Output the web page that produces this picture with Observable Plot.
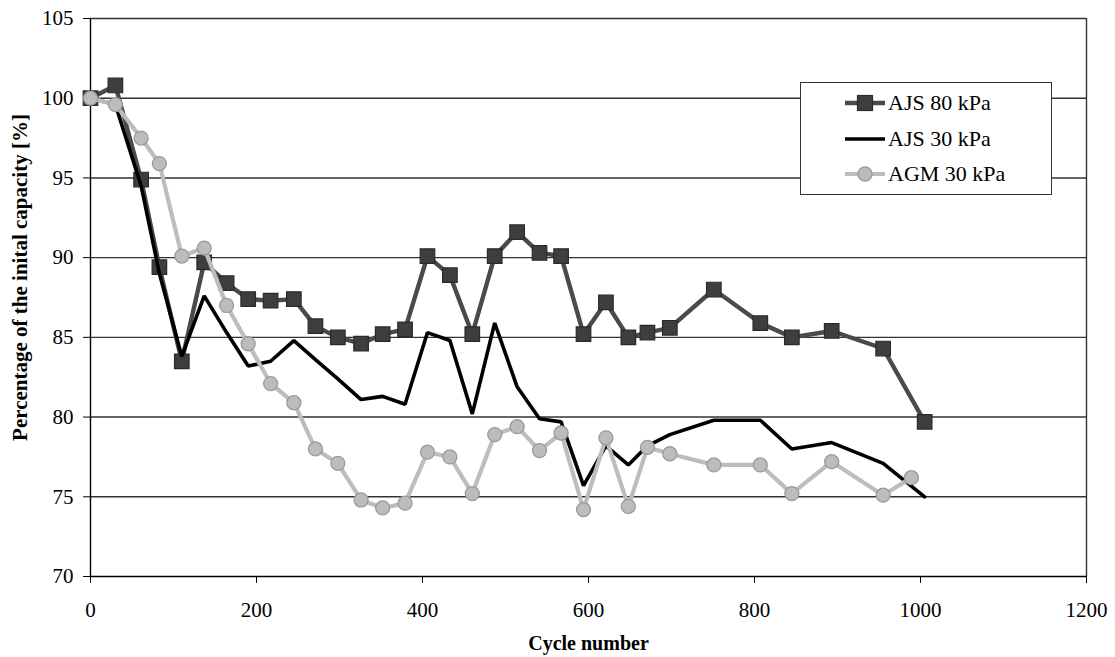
<!DOCTYPE html>
<html>
<head>
<meta charset="utf-8">
<script src="https://cdn.jsdelivr.net/npm/d3@7"></script>
<script src="https://cdn.jsdelivr.net/npm/@observablehq/plot@0.6"></script>
<style>
  html, body { margin: 0; padding: 0; background: #fff; }
  #wrap { position: relative; width: 1115px; height: 657px; font-family: "Liberation Serif", "Times New Roman", serif; }
  #legend { position: absolute; left: 800px; top: 82px; width: 252px; height: 113px; background: #fff; border: 1.5px solid #333; box-sizing: border-box; }
  #legend .row { position: absolute; left: 43px; height: 30px; display: flex; align-items: center; font-size: 22px; color: #000; white-space: nowrap; }
  #legend svg { margin-right: 2px; }
</style>
</head>
<body>
<div id="wrap"></div>
<script>
// ---- data ----
const seriesNames = ["AJS 80 kPa", "AJS 30 kPa", "AGM 30 kPa"];

const cyclesAJS80 = [0,30,61,83,110,137,164,190,217,245,271,298,326,352,379,406,433,460,487,514,541,567,594,621,648,671,698,751,807,845,893,955,1005];
const valuesAJS80 = [100,100.8,94.9,89.4,83.5,89.7,88.4,87.4,87.3,87.4,85.7,85.0,84.6,85.2,85.5,90.1,88.9,85.2,90.1,91.6,90.3,90.1,85.2,87.2,85.0,85.3,85.6,88.0,85.9,85.0,85.4,84.3,79.7];

const cyclesAJS30 = [0,30,61,83,110,137,164,190,217,245,271,298,326,352,379,406,433,460,487,514,541,567,594,621,648,671,698,751,807,845,893,955,1005];
const valuesAJS30 = [100,99.6,94.5,89.0,83.8,87.6,85.3,83.2,83.5,84.8,83.6,82.4,81.1,81.3,80.8,85.3,84.8,80.2,85.9,81.9,79.9,79.7,75.7,78.2,77.0,78.2,78.9,79.8,79.8,78.0,78.4,77.1,75.0];

const cyclesAGM30 = [0,30,61,83,110,137,164,190,217,245,271,298,326,352,379,406,433,460,487,514,541,567,594,621,648,671,698,751,807,845,893,955,989];
const valuesAGM30 = [100,99.6,97.5,95.9,90.1,90.6,87.0,84.6,82.1,80.9,78.0,77.1,74.8,74.3,74.6,77.8,77.5,75.2,78.9,79.4,77.9,79.0,74.2,78.7,74.4,78.1,77.7,77.0,77.0,75.2,77.2,75.1,76.2];

const xTicks = [0,200,400,600,800,1000,1200];
const yTicks = [70,75,80,85,90,95,100,105];
const gridValues = [75,80,85,90,95,100,105];

const xTitle = "Cycle number";
const yTitle = "Percentage of the inital capacity [%]";

// ---- tables ----
const ajs80 = cyclesAJS80.map((c, i) => ({cycle: c, value: valuesAJS80[i]}));
const ajs30 = cyclesAJS30.map((c, i) => ({cycle: c, value: valuesAJS30[i]}));
const agm30 = cyclesAGM30.map((c, i) => ({cycle: c, value: valuesAGM30[i]}));

const C80 = {line: "#4a4a4a", fill: "#3e3e3e", stroke: "#2a2a2a"};
const C30 = {line: "#000000"};
const CAG = {line: "#bdbdbd", fill: "#bcbcbc", stroke: "#9a9a9a"};

const chart = Plot.plot({
  width: 1115,
  height: 657,
  marginLeft: 90,
  marginRight: 29,
  marginTop: 18,
  marginBottom: 81,
  style: {fontFamily: "Liberation Serif, Times New Roman, serif", fontSize: "21px", color: "#000", background: "#fff"},
  x: {domain: [0, 1200], ticks: xTicks, tickFormat: d => String(d), label: null},
  y: {domain: [70, 105], ticks: yTicks, tickFormat: d => String(d), label: null},
  marks: [
    Plot.ruleY(gridValues, {stroke: "#333", strokeWidth: 1.4}),
    Plot.ruleX([1200], {stroke: "#333", strokeWidth: 1.4}),
    Plot.ruleY([70], {stroke: "#000", strokeWidth: 1.4}),
    Plot.ruleX([0], {stroke: "#000", strokeWidth: 1.4}),
    Plot.axisX({ticks: xTicks, tickSize: 7, tickPadding: 19, label: null, tickFormat: d => String(d), stroke: "#000"}),
    Plot.axisY({ticks: yTicks, tickSize: 7, tickPadding: 10, label: null, tickFormat: d => String(d), stroke: "#000"}),
    Plot.line(ajs80, {x: "cycle", y: "value", stroke: C80.line, strokeWidth: 4.4, strokeLinejoin: "miter"}),
    Plot.dot(ajs80, {x: "cycle", y: "value", symbol: "square", r: 8.2, fill: C80.fill, stroke: C80.stroke, strokeWidth: 1.2}),
    Plot.line(ajs30, {x: "cycle", y: "value", stroke: C30.line, strokeWidth: 3.6, strokeLinejoin: "miter"}),
    Plot.line(agm30, {x: "cycle", y: "value", stroke: CAG.line, strokeWidth: 4.2}),
    Plot.dot(agm30, {x: "cycle", y: "value", symbol: "circle", r: 7, fill: CAG.fill, stroke: CAG.stroke, strokeWidth: 1.3}),
    Plot.text([xTitle], {frameAnchor: "bottom", lineAnchor: "middle", textAnchor: "middle", dy: 67, text: d => d, fontWeight: "bold", fontSize: 20, fill: "#000"}),
    Plot.text([yTitle], {frameAnchor: "left", textAnchor: "middle", lineAnchor: "middle", dx: -70, dy: -20, rotate: -90, text: d => d, fontWeight: "bold", fontSize: 21, fill: "#000"})
  ]
});

const wrap = document.getElementById("wrap");
wrap.appendChild(chart);

// ---- legend ----
const legend = document.createElement("div");
legend.id = "legend";
const swatches = [
  `<svg width="42" height="20"><line x1="1" y1="10" x2="41" y2="10" stroke="${C80.line}" stroke-width="4.4"/><rect x="13.5" y="2.5" width="15" height="15" fill="${C80.fill}" stroke="${C80.stroke}" stroke-width="1.2"/></svg>`,
  `<svg width="42" height="20"><line x1="1" y1="10" x2="41" y2="10" stroke="${C30.line}" stroke-width="3.6"/></svg>`,
  `<svg width="42" height="20"><line x1="1" y1="10" x2="41" y2="10" stroke="${CAG.line}" stroke-width="4.2"/><circle cx="21" cy="10" r="7" fill="${CAG.fill}" stroke="${CAG.stroke}" stroke-width="1.3"/></svg>`
];
const rowTops = [5, 41, 76];
seriesNames.forEach((name, i) => {
  const row = document.createElement("div");
  row.className = "row";
  row.style.top = rowTops[i] + "px";
  row.innerHTML = swatches[i] + `<span>${name}</span>`;
  legend.appendChild(row);
});
wrap.appendChild(legend);
</script>
</body>
</html>
